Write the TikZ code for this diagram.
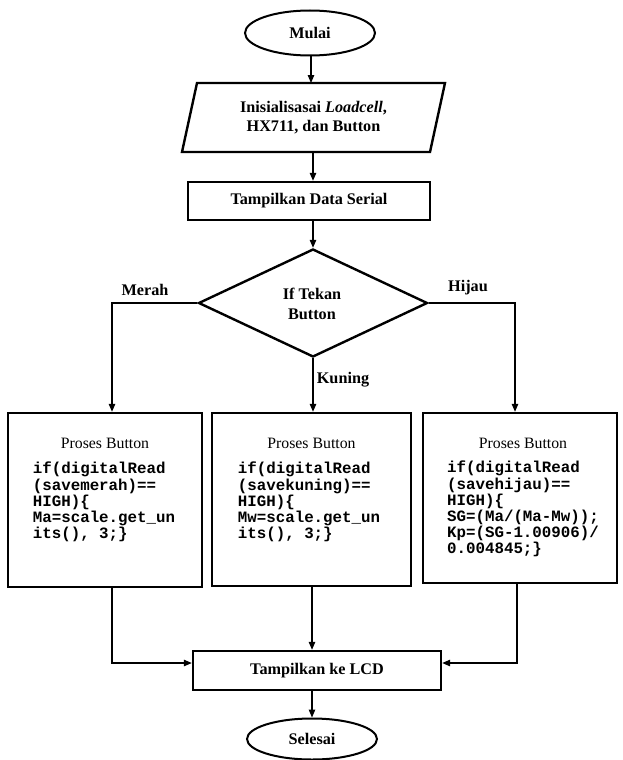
\documentclass[tikz,border=0pt]{standalone}
\usepackage{fontspec}
\setmainfont{Liberation Serif}
\setmonofont{Liberation Mono}
\usetikzlibrary{shapes.geometric,arrows.meta}
\tikzset{
  lbl/.style={font=\fontsize{16.2}{19.5}\selectfont\bfseries, inner sep=0pt, align=center},
  boxthick/.style={draw, line width=2.4pt, inner sep=0pt},
  termin/.style={draw, ellipse, line width=2pt, inner sep=0pt},
  conn/.style={line width=1.2pt},
  arr/.style={conn, -{Triangle[length=8pt,width=6.5pt]}},
  ptitle/.style={font=\fontsize{15.8}{18}\selectfont, inner sep=0pt},
  code/.style={font=\fontsize{15.8}{16.2}\selectfont\ttfamily\bfseries, inner sep=0pt, align=left, anchor=north},
}
\begin{document}
\begin{tikzpicture}[x=1pt,y=-1pt]
\useasboundingbox[fill=white] (0,0) rectangle (622,760);

\node[termin, minimum width=130pt, minimum height=45pt, lbl] (mulai) at (310,33) {Mulai};

\draw[line width=2.4pt, line join=miter] (197,83) -- (445,83) -- (430,152) -- (182,152) -- cycle;
\coordinate (initN) at (311,83);
\coordinate (initS) at (313,152);
\node[lbl] (init) at (313.5,117.5) {Inisialisasai \textit{Loadcell},\\HX711, dan Button};

\node[boxthick, minimum width=242pt, minimum height=38pt, lbl] (serial) at (309,201) {Tampilkan Data Serial};

\node[boxthick, diamond, minimum width=229pt, minimum height=108pt] (dia) at (313,303) {};
\node[lbl] (diat) at (312,304) {If Tekan\\Button};

\node[boxthick, minimum width=194pt, minimum height=174pt] (b1) at (105,500) {};
\node[boxthick, minimum width=199pt, minimum height=173pt] (b2) at (311.5,499.5) {};
\node[boxthick, minimum width=194pt, minimum height=170pt] (b3) at (520,498) {};

\node[ptitle] (p1) at (105,443) {Proses Button};
\node[ptitle] (p2) at (311.5,443) {Proses Button};
\node[ptitle] (p3) at (523,443) {Proses Button};

\node[code] (c1) at (104,462) {if(digitalRead\\(savemerah)==\\HIGH)\{\\Ma=scale.get\_un\\its(), 3;\}};
\node[code] (c2) at (309,462) {if(digitalRead\\(savekuning)==\\HIGH)\{\\Mw=scale.get\_un\\its(), 3;\}};
\node[code] (c3) at (523,461) {if(digitalRead\\(savehijau)==\\HIGH)\{\\SG=(Ma/(Ma-Mw));\\Kp=(SG-1.00906)/\\0.004845;\}};

\node[boxthick, minimum width=248pt, minimum height=39pt, lbl] (lcd) at (317,670.5) {Tampilkan ke LCD};
\node[termin, minimum width=130pt, minimum height=41pt, lbl] (selesai) at (312,739) {Selesai};

\node[lbl] (merah) at (145,290) {Merah};
\node[lbl] (hijau) at (468,288) {Hijau};
\node[lbl] (kuning) at (343,380) {Kuning};

\coordinate (mL) at (112,303);
\coordinate (mR) at (515,303);
\coordinate (bL) at (112,663);
\coordinate (bR) at (517,663);

\draw[arr] (mulai.south -| initN) -- (initN);
\draw[arr] (initS) -- (initS |- serial.north);
\draw[arr] (serial.south -| dia.north) -- (dia.north);
\draw[arr] (dia.west) -- (mL) -- (mL |- b1.north);
\draw[arr] (dia.east) -- (mR) -- (mR |- b3.north);
\draw[arr] (dia.south) -- (dia.south |- b2.north);
\draw[arr] (b1.south -| bL) -- (bL) -- (bL -| lcd.west);
\draw[arr] (b3.south -| bR) -- (bR) -- (bR -| lcd.east);
\draw[arr] (b2.south -| selesai.north) -- (lcd.north -| selesai.north);
\draw[arr] (lcd.south -| selesai.north) -- (selesai.north);
\end{tikzpicture}
\end{document}
